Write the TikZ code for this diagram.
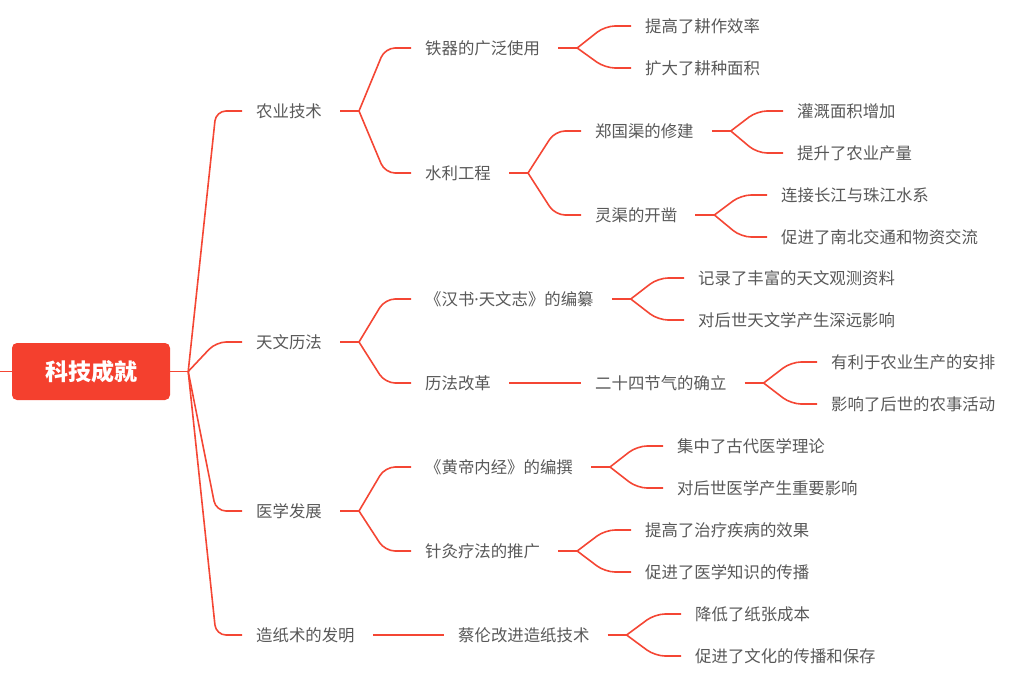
\documentclass[tikz,border=0pt]{standalone}
\usepackage{fontspec}
\setmainfont{Noto Sans CJK SC}
\newfontfamily\dotfont{Noto Sans}
\definecolor{mapred}{RGB}{244,70,52}
\definecolor{boxred}{RGB}{244,64,46}
\definecolor{textgray}{RGB}{88,88,88}
\tikzset{
  topic/.style={text=textgray, font=\fontsize{16.4}{20}\selectfont, inner sep=0pt, anchor=west},
  rootbox/.style={fill=boxred, text=white, rounded corners=5pt, minimum width=158pt, minimum height=57pt,
    font=\fontsize{23}{28}\selectfont\bfseries},
  link/.style={draw=mapred, line width=1.6pt},
  branch/.style={link, rounded corners=10pt}
}
\begin{document}
\begin{tikzpicture}[x=1pt,y=-1pt]
\useasboundingbox (0,0) rectangle (1032,682);

\node[rootbox] (root) at (91,371.5) {科技成就};
\coordinate (edge) at (0,371.5);

% first level
\node[topic] (agri)  at (256,111) {农业技术};
\node[topic] (astro) at (256,342) {天文历法};
\node[topic] (med)   at (256,511) {医学发展};
\node[topic] (paper) at (256,635) {造纸术的发明};

% second level
\node[topic] (iron)     at (425,48)  {铁器的广泛使用};
\node[topic] (water)    at (425,173) {水利工程};
\node[topic] (hanshu)   at (425,299) {《汉书{\dotfont ·}天文志》的编纂};
\node[topic] (calendar) at (425,383) {历法改革};
\node[topic] (neijing)  at (425,467) {《黄帝内经》的编撰};
\node[topic] (acu)      at (425,551) {针灸疗法的推广};
\node[topic] (cailun)   at (458,635) {蔡伦改进造纸技术};
\node[topic] (zheng)    at (595,131) {郑国渠的修建};
\node[topic] (ling)     at (595,215) {灵渠的开凿};
\node[topic] (solar)    at (595,383) {二十四节气的确立};

% leaves
\node[topic] (iron1)    at (645,26)  {提高了耕作效率};
\node[topic] (iron2)    at (645,68)  {扩大了耕种面积};
\node[topic] (zheng1)   at (797,111) {灌溉面积增加};
\node[topic] (zheng2)   at (797,153) {提升了农业产量};
\node[topic] (ling1)    at (781,195) {连接长江与珠江水系};
\node[topic] (ling2)    at (781,237) {促进了南北交通和物资交流};
\node[topic] (hanshu1)  at (698,278) {记录了丰富的天文观测资料};
\node[topic] (hanshu2)  at (698,320) {对后世天文学产生深远影响};
\node[topic] (solar1)   at (831,362) {有利于农业生产的安排};
\node[topic] (solar2)   at (831,404) {影响了后世的农事活动};
\node[topic] (neijing1) at (677,446) {集中了古代医学理论};
\node[topic] (neijing2) at (677,488) {对后世医学产生重要影响};
\node[topic] (acu1)     at (645,530) {提高了治疗疾病的效果};
\node[topic] (acu2)     at (645,572) {促进了医学知识的传播};
\node[topic] (cailun1)  at (695,614) {降低了纸张成本};
\node[topic] (cailun2)  at (695,656) {促进了文化的传播和保存};

\draw[link] (edge) -- (root.west);
\draw[link] (root.east) -- ++(18,0) coordinate (root-j);
\foreach \c in {agri,astro,med,paper}
  \draw[branch] (root-j) -- ([xshift=-40pt]\c.west) -- ([xshift=-14pt]\c.west);

\foreach \p in {agri,astro,med,iron,water,zheng,ling,hanshu,solar,neijing,acu,cailun}
  \draw[link] ([xshift=18pt]\p.east) -- ++(19,0) coordinate (\p-j);

\foreach \p/\c in {agri/iron,agri/water,astro/hanshu,astro/calendar,med/neijing,med/acu,
    water/zheng,water/ling,iron/iron1,iron/iron2,zheng/zheng1,zheng/zheng2,ling/ling1,ling/ling2,
    hanshu/hanshu1,hanshu/hanshu2,solar/solar1,solar/solar2,neijing/neijing1,neijing/neijing2,
    acu/acu1,acu/acu2,cailun/cailun1,cailun/cailun2}
  \draw[branch] (\p-j) -- ([xshift=-40pt]\c.west) -- ([xshift=-14pt]\c.west);

\draw[link] ([xshift=18pt]calendar.east) -- ([xshift=-14pt]solar.west);
\draw[link] ([xshift=18pt]paper.east) -- ([xshift=-14pt]cailun.west);
\end{tikzpicture}
\end{document}
